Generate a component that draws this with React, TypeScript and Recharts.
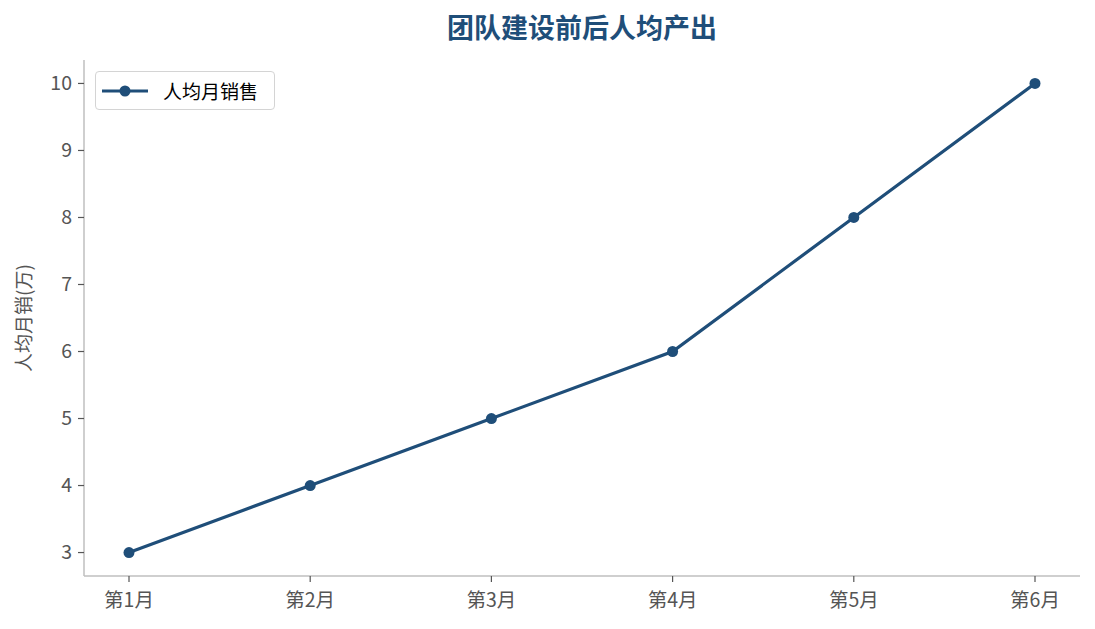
import { LineChart, Line, XAxis, YAxis } from 'recharts';

const months = ['第1月', '第2月', '第3月', '第4月', '第5月', '第6月'];
const salesPerHead = [3, 4, 5, 6, 8, 10];
const yTicks = [3, 4, 5, 6, 7, 8, 9, 10];

const chartData = months.map((m, i) => ({ month: m, sales: salesPerHead[i] }));

const FONT = '"Noto Sans CJK SC", "Noto Sans", sans-serif';
const NAVY = '#1f4e79';
const AXIS = '#bfbfbf';
const TICK = '#555555';

function LegendBox() {
  return (
    <div
      style={{
        position: 'absolute',
        left: 95,
        top: 71,
        boxSizing: 'border-box',
        width: 180,
        height: 39,
        border: '1.5px solid #d4d4d4',
        borderRadius: 4,
        background: '#fff',
        display: 'flex',
        alignItems: 'center',
        fontFamily: FONT,
        fontSize: 19,
        color: '#000',
      }}
    >
      <svg width={62} height={20} style={{ marginLeft: 5 }}>
        <line x1={1} y1={10} x2={47} y2={10} stroke={NAVY} strokeWidth={3.2} />
        <circle cx={24} cy={10} r={5.5} fill={NAVY} />
      </svg>
      <span>人均月销售</span>
    </div>
  );
}

export default function App() {
  return (
    <div style={{ position: 'absolute', left: 0, top: 0, width: 1095, height: 629, background: '#fff' }}>
      <div
        style={{
          position: 'absolute',
          left: 84,
          width: 996,
          top: 8,
          textAlign: 'center',
          fontFamily: FONT,
          fontWeight: 700,
          fontSize: 27,
          color: NAVY,
          lineHeight: '38px',
        }}
      >
        团队建设前后人均产出
      </div>
      <LineChart
        width={1095}
        height={629}
        data={chartData}
        margin={{ top: 60, right: 15, bottom: 0, left: 0 }}
      >
        <XAxis
          dataKey="month"
          padding={{ left: 45, right: 45 }}
          height={53}
          axisLine={{ stroke: AXIS, strokeWidth: 1.5 }}
          tickLine={{ stroke: TICK, strokeWidth: 1.2 }}
          tickSize={6}
          tickMargin={11}
          tick={{ fill: TICK, fontSize: 19.5, fontFamily: FONT }}
        />
        <YAxis
          type="number"
          domain={[2.65, 10.35]}
          ticks={yTicks}
          width={84}
          axisLine={{ stroke: AXIS, strokeWidth: 1.5 }}
          tickLine={{ stroke: TICK, strokeWidth: 1.2 }}
          tickSize={6}
          tickMargin={6}
          tick={{ fill: TICK, fontSize: 19.5, fontFamily: FONT }}
          label={{
            content: () => (
              <text
                x={22}
                y={318}
                transform="rotate(-90 22 318)"
                textAnchor="middle"
                dominantBaseline="central"
                fill={TICK}
                fontSize={19}
                fontFamily={FONT}
              >
                人均月销(万)
              </text>
            ),
          }}
        />
        <Line
          dataKey="sales"
          name="人均月销售"
          stroke={NAVY}
          strokeWidth={3.2}
          dot={{ r: 5.5, fill: NAVY, stroke: NAVY, strokeWidth: 0 }}
          activeDot={false}
          isAnimationActive={false}
        />
      </LineChart>
      <LegendBox />
    </div>
  );
}
